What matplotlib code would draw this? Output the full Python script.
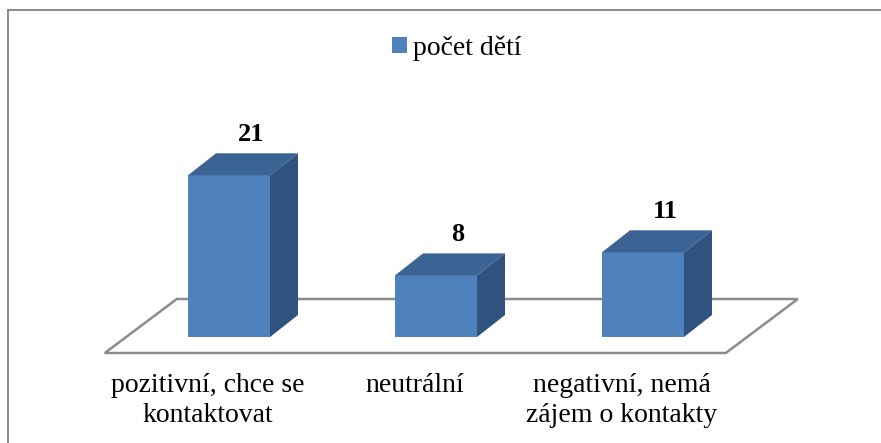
import matplotlib
matplotlib.use('Agg')
import matplotlib.pyplot as plt
from matplotlib.patches import Polygon, Patch
from matplotlib.lines import Line2D

# data
categories = ['pozitivní, chce se\nkontaktovat', 'neutrální', 'negativní, nemá\nzájem o kontakty']
values = [21, 8, 11]
series_name = 'počet dětí'

# colours of the 3D bar faces
front_col = '#4F81BD'
top_col = '#3B6494'
side_col = '#30527E'
floor_col = '#8C8C8C'

FONT = 'Liberation Serif'

W, H = 881, 443
fig = plt.figure(figsize=(W / 100, H / 100), dpi=100)
ax = fig.add_axes([0, 0, 1, 1])

# pixel layout: category i centred at 229 + 207*i, value 0 at y=337, 7.7 px per unit
px_cat, x0 = 207.0, 229.0
px_val, y0 = 7.7, 337.0
ax.set_xlim(-x0 / px_cat, (W - x0) / px_cat)
ax.set_ylim((y0 - H) / px_val, y0 / px_val)
ax.axis('off')

bar_w = 82 / px_cat
ddx = 28 / px_cat   # bar depth offset
ddy = 22 / px_val

# floor of the 3D chart
n = len(values)
f_left, f_right = -0.6, n - 1 + 0.4
f_front, f_back = -16 / px_val, 38 / px_val
f_dx = 72 / px_cat
floor = Polygon([(f_left, f_front), (f_right, f_front), (f_right + f_dx, f_back), (f_left + f_dx, f_back)],
                closed=True, facecolor='white', edgecolor=floor_col, lw=1.8, zorder=1)
ax.add_patch(floor)

for i, v in enumerate(values):
    l, r = i - bar_w / 2, i + bar_w / 2
    # front face
    ax.add_patch(Polygon([(l, 0), (r, 0), (r, v), (l, v)], closed=True,
                         facecolor=front_col, edgecolor='none', zorder=3))
    # top face
    ax.add_patch(Polygon([(l, v), (r, v), (r + ddx, v + ddy), (l + ddx, v + ddy)], closed=True,
                         facecolor=top_col, edgecolor='none', zorder=3))
    # side face
    ax.add_patch(Polygon([(r, 0), (r + ddx, ddy), (r + ddx, v + ddy), (r, v)], closed=True,
                         facecolor=side_col, edgecolor='none', zorder=3))
    # value label
    ax.text(i + 22 / px_cat, v + ddy + 19 / px_val, str(v), ha='center', va='center',
            fontsize=19, fontweight='bold', family=FONT, color='black', zorder=4)
    # category label
    ax.text(i - 21 / px_cat, -36 / px_val, categories[i], ha='center', va='top',
            fontsize=20, family=FONT, linespacing=1.24, color='black', zorder=4)

# legend
ax.legend(handles=[Patch(facecolor=front_col, edgecolor='none', label=series_name)],
          loc='center', bbox_to_anchor=(457 / W, 1 - 48 / H), frameon=False,
          handlelength=0.52, handleheight=0.52, handletextpad=0.22,
          prop={'family': FONT, 'size': 20})

# chart area border (only top and left visible)
fig.add_artist(Line2D([8 / W, 8 / W], [0, 1 - 10 / H], color='#8A8A8A', lw=1.4))
fig.add_artist(Line2D([8 / W, 1], [1 - 10 / H, 1 - 10 / H], color='#8A8A8A', lw=1.4))

fig.savefig('out.png', dpi=100)
